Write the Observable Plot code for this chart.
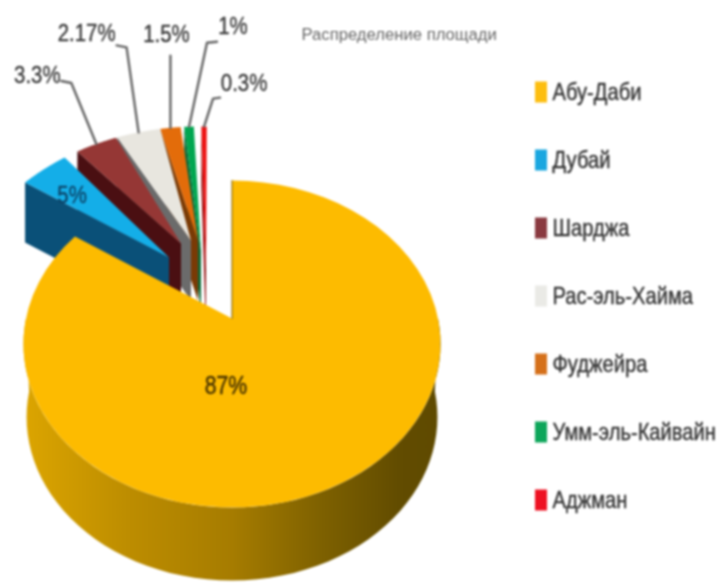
<!DOCTYPE html>
<html><head><meta charset="utf-8">
<style>html,body{margin:0;padding:0;background:#fff}svg{display:block}</style>
<script src="https://cdn.jsdelivr.net/npm/d3@7"></script>
<script src="https://cdn.jsdelivr.net/npm/@observablehq/plot@0.6"></script>
</head><body><div id="chart"></div>
<script>
const regions = ["Абу-Даби","Дубай","Шарджа","Рас-эль-Хайма","Фуджейра","Умм-эль-Кайвайн","Аджман"];
const percents = [87,5,3.3,2.17,1.5,1,0.3];
// Angular width of each slice and the gap before it, as drawn in the picture (degrees)
const sweeps = [304,13.5,11.6,12.3,5.7,2.7,1.5];
const gaps = [0,3.5,4,0.4,0,1,2.1];
const faceColors = ["#fdbb00","#14aee8","#953735","#e8e6df","#e36c0a","#00a650","#ee1111"];
const wallColors = ["#a67c00","#0a5078","#4a0f12","#6b6b6b","#7a3a05","#0f6a38","#8f0a0a"];
const swatchColors = ["#fdbe10","#1aa7e0","#8a3a40","#eaeae6","#d5701a","#0da65a","#ee1122"];
const titleText = "Распределение площади";

// Layout
const W = 721, H = 583, FONT = "'Liberation Sans',sans-serif";
const persp = 0.156, kx = 206, ky = 159.5;
const main = {x:231.5, y:318}, fan = {x:198, y:285}, fanR = 1.18, depthMain = 73, depthFan = 60;
// How far each small slice's tip is pulled from the pie centre
const tipShift = [null,[-63,-61],[-51,-75],[-41,-78],[-34,-78],[-31,-68],[-26,-48]];
const project = (deg, r, o, dy = 0, s = 1) => {
  const t = deg*Math.PI/180, u = r*Math.sin(t), v = r*Math.cos(t), d = 1 + persp*v;
  return {x:o.x + s*kx*u/d, y:o.y - ky*v/d + dy};
};
// Angular extents, clockwise from 12 o'clock
let a = 0;
const spans = sweeps.map((s,i) => { a += gaps[i]; const r = [a, a+s]; a += s; return r; });
const arc = (a0,a1,r,o,dy=0,s=1) => d3.range(0,61).map(j => project(a0+(a1-a0)*j/60,r,o,dy,s));
const poly = (pts, fill, extra={}) => Plot.line(pts,{x:"x",y:"y",fill,stroke:"none",curve:"linear",...extra});

const marks = [];
marks.push(() => {
  const defs = d3.create("svg:defs");
  const g = defs.append("linearGradient").attr("id","wallGrad").attr("x1","0").attr("x2","1").attr("y1","0").attr("y2","0");
  [[0,"#dca500"],[0.25,"#bd8d00"],[0.5,"#a67c00"],[0.72,"#7d6000"],[0.9,"#624c00"],[1,"#5f4a00"]]
    .forEach(([o,c]) => g.append("stop").attr("offset",o).attr("stop-color",c));
  return defs.node();
});
// Small slices, far to near
for (let i = 6; i >= 1; i--) {
  const [a0,a1] = spans[i];
  const rim0 = project(a0,fanR,fan), apex = {x:main.x+tipShift[i][0], y:main.y+tipShift[i][1]};
  marks.push(poly([apex,rim0,{x:rim0.x,y:rim0.y+depthFan},{x:apex.x,y:apex.y+depthFan}],wallColors[i]));
  marks.push(poly([apex,...arc(a0,a1,fanR,fan)],faceColors[i]));
}
// Large slice: wall then top
const wallTop = arc(90,270,1,main), wallBot = arc(270,90,1,main,depthMain,0.985);
marks.push(poly([...wallTop,...wallBot],"url(#wallGrad)"));
const yApex = project(0,0,main);
marks.push(poly([yApex,...arc(spans[0][0],spans[0][1],1,main)],faceColors[0]));
// Cut edge
marks.push(Plot.line([project(0,1,main),yApex],{x:"x",y:"y",stroke:"#7a5a00",strokeWidth:1}));

// Leaders and labels for outer slices (offsets from each slice's rim midpoint)
const leaderOffsets = {2:[[-25,-61],[-35,-63]],3:[[-12,-85],[-22,-87]],4:[[0,-72],[0,-72]],5:[[18,-84],[28,-85]],6:[[9,-28],[16,-29]]};
const labelOffsets = {2:[-24,-6],3:[-30,-12],4:[-4,-22],5:[16,-15],6:[24,-14]};
const labelRows = [];
Object.keys(leaderOffsets).forEach(k => {
  const i = +k, [a0,a1] = spans[i], m = project((a0+a1)/2,fanR,fan);
  const pts = [m,...leaderOffsets[i].map(([dx,dy]) => ({x:m.x+dx,y:m.y+dy}))];
  marks.push(Plot.line(pts,{x:"x",y:"y",stroke:"#666",strokeWidth:2.4,curve:"linear"}));
  const e = pts[2], [lx,ly] = labelOffsets[i];
  labelRows.push({x:e.x+lx,y:e.y+ly,t:percents[i]+"%"});
});
marks.push(Plot.text(labelRows,{x:"x",y:"y",text:"t",textAnchor:"middle",fontSize:24,fontFamily:FONT,fill:"#3a3a3a",stroke:"#3a3a3a",strokeWidth:0.4,className:"sq-lab"}));
// Inside labels
const m1 = project((spans[1][0]+spans[1][1])/2,0.92,fan);
marks.push(Plot.text([{x:m1.x-3,y:m1.y+3,t:percents[1]+"%"}],{x:"x",y:"y",text:"t",fontSize:24,fontFamily:FONT,fill:"#0d4468",stroke:"#0d4468",strokeWidth:0.4,className:"sq-lab"}));
const m0 = project(180,0.3,main);
marks.push(Plot.text([{x:m0.x-6,y:m0.y+17,t:percents[0]+"%"}],{x:"x",y:"y",text:"t",fontSize:25,fontFamily:FONT,fill:"#4a3500",stroke:"#4a3500",strokeWidth:0.5,className:"sq-lab"}));
// Title
marks.push(Plot.text([titleText],{frameAnchor:"top-left",dx:301,dy:27,textAnchor:"start",fontSize:17,fontFamily:FONT,fill:"#666",className:"sq-tit"}));
// Legend
const legend = regions.map((name,i)=>({name,i,color:swatchColors[i]}));
const ly = d => 92 + d.i*68;
marks.push(Plot.rect(legend,{x1:()=>535,x2:()=>547,y1:d=>ly(d)-10.5,y2:d=>ly(d)+10.5,fill:d=>d.color}));
marks.push(Plot.text(legend,{x:()=>552,y:ly,text:"name",textAnchor:"start",fontSize:24,fontFamily:FONT,fill:"#333",stroke:"#333",strokeWidth:0.4,className:"sq-leg"}));

const chart = Plot.plot({
  width:W,height:H,margin:0,
  x:{domain:[0,W],range:[0,W],axis:null},
  y:{domain:[0,H],range:[0,H],axis:null},
  color:{type:"identity"},
  style:{background:"#fff",filter:"blur(0.8px)"},
  marks
});
document.getElementById("chart").append(chart);
// Condense the type: the picture's lettering is tall and narrow
[["sq-lab",0.85],["sq-tit",0.98],["sq-leg",0.84]].forEach(([cls,f]) => {
  chart.querySelectorAll(`g.${cls} text`).forEach(t => {
    t.setAttribute("transform", `${t.getAttribute("transform") || ""} scale(${f},1)`.trim());
  });
});
</script></body></html>
